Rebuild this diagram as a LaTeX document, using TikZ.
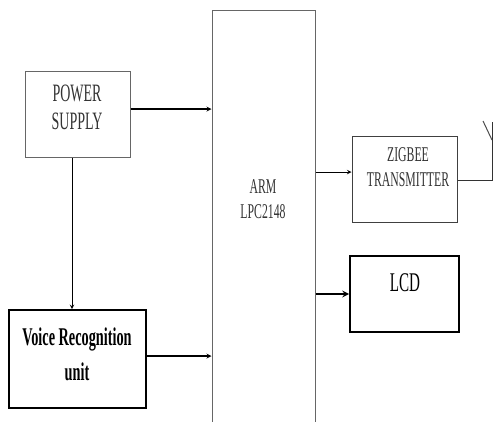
\documentclass[tikz,border=0pt]{standalone}
\usepackage{fontspec}
\newfontfamily\diagfont{Liberation Serif}[FakeStretch=0.56]
\usetikzlibrary{positioning}

\begin{document}
\begin{tikzpicture}[x=1pt,y=-1pt,
    thinbox/.style={rectangle,draw=black!60,line width=1pt},
    thickbox/.style={rectangle,draw=black,line width=1.8pt},
    txt/.style={align=center,text=black!80,inner sep=0pt},
    arrow/.style={-stealth,line width=1.2pt}]
  \useasboundingbox (0,0) rectangle (495,421);

  % blocks
  \node[thinbox,minimum width=103pt,minimum height=430pt] (arm) at (263.5,225) {};
  \node[thinbox,minimum width=105pt,minimum height=86pt] (power) at (77.5,114) {};
  \node[thickbox,minimum width=137pt,minimum height=98pt] (voice) at (77.5,359) {};
  \node[thinbox,draw=black!75,minimum width=105pt,minimum height=86pt] (zigbee) at (404.5,179) {};
  \node[thickbox,minimum width=109pt,minimum height=76pt] (lcd) at (404.5,294) {};

  % labels
  \node[txt,font=\diagfont\fontsize{21}{25}\selectfont] (armtxt) at (263,199) {ARM\\LPC2148};
  \node[txt,font=\diagfont\fontsize{25}{28}\selectfont] (powertxt) at (77,107.5) {POWER\\SUPPLY};
  \node[txt,text=black,font=\diagfont\bfseries\fontsize{25.5}{35}\selectfont] (voicetxt) at (77,354) {Voice Recognition\\unit};
  \node[txt,font=\diagfont\fontsize{21}{25}\selectfont] (zigbeetxt) at (408,167.5) {ZIGBEE\\TRANSMITTER};
  \node[txt,text=black,font=\diagfont\fontsize{27}{30}\selectfont] (lcdtxt) at (405,283) {LCD};

  % antenna
  \coordinate (anttop) at (492,122);
  \coordinate (antarm) at (483,121);
  \coordinate (antfoot) at (492,140);

  % connections
  \draw[arrow] ([yshift=5pt]power.east) -- ([yshift=5pt]power.east -| arm.west);
  \draw[arrow,line width=1pt] ([xshift=-5.5pt]power.south) -- ([xshift=-5.5pt]power.south |- voice.north);
  \draw[arrow] ([yshift=3pt]voice.east) -- ([yshift=3pt]voice.east -| arm.west);
  \draw[arrow,line width=1pt] ([yshift=7pt]zigbee.west -| arm.east) -- ([yshift=7pt]zigbee.west);
  \draw[arrow,line width=2pt] (lcd.west -| arm.east) -- (lcd.west);
  \draw[line width=1pt,black!80] ([yshift=-1pt]zigbee.east) -| (anttop);
  \draw[line width=1pt,black!70] (antarm) -- (antfoot);
\end{tikzpicture}
\end{document}
